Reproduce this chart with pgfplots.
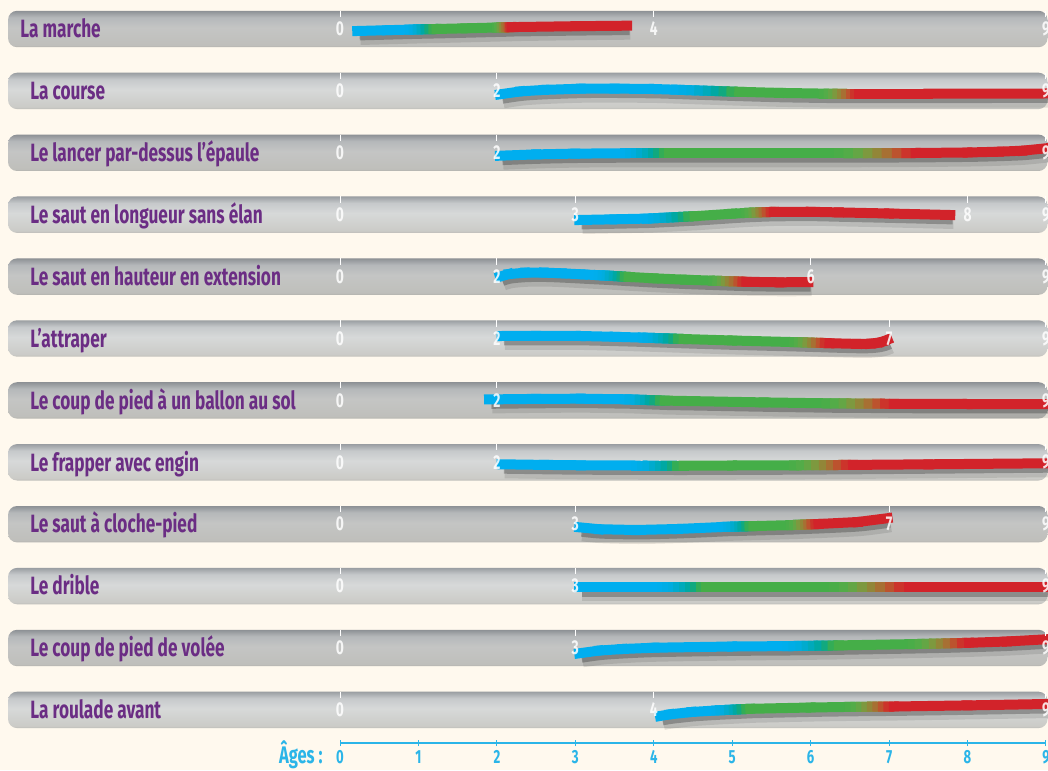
\documentclass[border=0pt]{standalone}
\usepackage{fontspec}
\setmainfont{Fira Sans}[FakeStretch=0.69]
\usepackage{pgfplots}
\usepackage{pgfplotstable}
\pgfplotsset{compat=1.18}

\definecolor{cream}{HTML}{FFF9EE}
\definecolor{lblpurple}{HTML}{6B2D84}
\definecolor{agecyan}{HTML}{2BB5E8}
\definecolor{bAbot}{HTML}{B3B2AD}
\definecolor{bAlow}{HTML}{BFBFBB}
\definecolor{bAmid}{HTML}{C4C5C4}
\definecolor{bAupp}{HTML}{B5B8BA}
\definecolor{bAtop}{HTML}{8D9195}
\definecolor{bBbot}{HTML}{BDBCB7}
\definecolor{bBlow}{HTML}{CBCBC7}
\definecolor{bBmid}{HTML}{D7D9D9}
\definecolor{bBupp}{HTML}{C6C9CB}
\definecolor{bBtop}{HTML}{9A9EA2}

\pgfdeclareverticalshading{barA}{100bp}{color(0bp)=(bAbot); color(25bp)=(bAbot);
  color(28bp)=(bAlow); color(52bp)=(bAmid); color(66bp)=(bAupp); color(75bp)=(bAtop); color(100bp)=(bAtop)}
\pgfdeclareverticalshading{barB}{100bp}{color(0bp)=(bBbot); color(25bp)=(bBbot);
  color(28bp)=(bBlow); color(52bp)=(bBmid); color(66bp)=(bBupp); color(75bp)=(bBtop); color(100bp)=(bBtop)}

% x = age, dy = offset of the line from the row centre (px), c = colour stage (0 blue, 1 green, 2 red)
\pgfplotstableread{
x dy c
0.22 2.0 0
0.60 1.2 0
0.89 0.6 0
0.94 0.5 0.15
0.99 0.4 0.3
1.04 0.3 0.45
1.09 0.2 0.6
1.14 0.15 0.75
1.19 0.05 0.9
1.23 0.0 1
1.60 -0.7 1
2.00 -1.5 1
2.03 -1.55 1.15
2.06 -1.6 1.3
2.09 -1.65 1.45
2.12 -1.7 1.6
2.15 -1.75 1.75
2.17 -1.8 1.88
2.19 -1.9 2
3.00 -2.8 2
3.66 -3.3 2
}\tMarche
\pgfplotstableread{
x dy c
2.04 3.4 0
2.30 0.5 0
2.60 -1.0 0
3.07 -2.2 0
3.50 -2.3 0
4.00 -1.9 0
4.28 -1.2 0
4.38 -0.93 0.125
4.48 -0.66 0.25
4.58 -0.4 0.375
4.69 -0.13 0.5
4.79 0.14 0.625
4.89 0.4 0.75
4.99 0.66 0.875
5.09 0.9 1
5.60 2.0 1
6.17 2.7 1
6.23 2.7 1.125
6.28 2.75 1.25
6.34 2.75 1.375
6.40 2.8 1.5
6.45 2.8 1.625
6.51 2.8 1.75
6.56 2.8 1.875
6.62 2.8 2
7.50 2.8 2
9.00 2.6 2
}\tCourse
\pgfplotstableread{
x dy c
2.04 2.9 0
2.50 1.6 0
3.00 0.8 0
3.63 0.5 0
3.70 0.5 0.125
3.77 0.5 0.25
3.84 0.5 0.375
3.92 0.5 0.5
3.99 0.5 0.625
4.06 0.5 0.75
4.13 0.5 0.875
4.20 0.5 1
5.40 0.5 1
6.36 0.5 1
6.48 0.5 1.125
6.61 0.45 1.25
6.73 0.45 1.375
6.85 0.4 1.5
6.97 0.35 1.625
7.10 0.3 1.75
7.22 0.25 1.875
7.34 0.2 2
8.00 -0.3 2
8.40 -1.1 2
8.70 -2.1 2
9.00 -4.5 2
}\tLancer
\pgfplotstableread{
x dy c
3.05 5.3 0
3.50 4.6 0
3.91 3.9 0
3.99 3.6 0.125
4.06 3.3 0.25
4.14 3.0 0.375
4.22 2.7 0.5
4.29 2.4 0.625
4.37 2.1 0.75
4.44 1.8 0.875
4.52 1.5 1
5.00 -1.0 1
5.18 -1.8 1
5.22 -1.95 1.125
5.27 -2.1 1.25
5.31 -2.25 1.375
5.36 -2.4 1.5
5.40 -2.5 1.625
5.44 -2.6 1.75
5.49 -2.7 1.875
5.53 -2.8 2
6.00 -2.9 2
6.36 -2.3 2
7.00 -1.2 2
7.78 0.3 2
}\tLongueur
\pgfplotstableread{
x dy c
2.04 0.0 0
2.15 -2.5 0
2.36 -3.9 0
2.60 -4.0 0
2.83 -3.3 0
3.10 -2.2 0
3.30 -1.4 0
3.35 -1.2 0.125
3.40 -1.0 0.25
3.44 -0.8 0.375
3.49 -0.6 0.5
3.54 -0.35 0.625
3.59 -0.1 0.75
3.63 0.1 0.875
3.68 0.3 1
4.00 1.7 1
4.40 3.1 1
4.76 4.1 1
4.81 4.25 1.125
4.87 4.4 1.25
4.92 4.55 1.375
4.97 4.7 1.5
5.02 4.8 1.625
5.08 4.95 1.75
5.13 5.05 1.875
5.18 5.2 2
5.60 5.7 2
5.97 5.5 2
}\tHauteur
\pgfplotstableread{
x dy c
2.06 -2.5 0
2.50 -2.6 0
3.07 -2.5 0
3.50 -1.7 0
3.86 -0.9 0
3.92 -0.7 0.125
3.99 -0.55 0.25
4.05 -0.4 0.375
4.12 -0.2 0.5
4.18 -0.05 0.625
4.25 0.15 0.75
4.31 0.3 0.875
4.38 0.5 1
5.00 2.0 1
5.79 3.6 1
5.85 3.7 1.125
5.90 3.85 1.25
5.96 4.0 1.375
6.02 4.15 1.5
6.07 4.3 1.625
6.13 4.4 1.75
6.18 4.55 1.875
6.24 4.7 2
6.59 5.4 2
6.75 5.2 2
6.86 4.2 2
6.93 2.8 2
6.98 1.2 2
}\tAttraper
\pgfplotstableread{
x dy c
1.90 -1.0 0
2.50 -1.5 0
3.07 -1.7 0
3.63 -1.1 0
3.69 -0.95 0.125
3.76 -0.8 0.25
3.82 -0.6 0.375
3.89 -0.45 0.5
3.95 -0.3 0.625
4.01 -0.15 0.75
4.08 0.05 0.875
4.14 0.2 1
5.40 2.0 1
6.20 2.9 1
6.31 3.0 1.125
6.42 3.05 1.25
6.52 3.1 1.375
6.63 3.15 1.5
6.74 3.2 1.625
6.85 3.3 1.75
6.95 3.35 1.875
7.06 3.4 2
8.00 3.6 2
9.00 3.7 2
}\tBallon
\pgfplotstableread{
x dy c
2.06 2.0 0
2.60 2.6 0
3.07 3.0 0
3.77 3.2 0
3.85 3.2 0.125
3.92 3.2 0.25
4.00 3.25 0.375
4.08 3.25 0.5
4.15 3.25 0.625
4.23 3.3 0.75
4.30 3.3 0.875
4.38 3.3 1
5.00 3.2 1
5.79 3.0 1
5.88 2.95 1.125
5.98 2.9 1.25
6.07 2.85 1.375
6.17 2.8 1.5
6.26 2.75 1.625
6.35 2.7 1.75
6.45 2.65 1.875
6.54 2.6 2
7.50 2.0 2
9.00 1.0 2
}\tFrapper
\pgfplotstableread{
x dy c
3.05 3.1 0
3.30 5.0 0
3.77 5.8 0
4.30 4.8 0
4.90 2.7 0
4.95 2.6 0.125
4.99 2.5 0.25
5.04 2.4 0.375
5.09 2.3 0.5
5.13 2.2 0.625
5.18 2.1 0.75
5.22 2.0 0.875
5.27 1.9 1
5.75 0.9 1
5.79 0.75 1.125
5.84 0.6 1.25
5.88 0.5 1.375
5.93 0.35 1.5
5.97 0.2 1.625
6.01 0.05 1.75
6.06 -0.05 1.875
6.10 -0.2 2
6.60 -2.2 2
6.98 -6.0 2
}\tCloche
\pgfplotstableread{
x dy c
3.05 1.3 0
4.10 1.3 0
4.17 1.3 0.125
4.24 1.3 0.25
4.31 1.3 0.375
4.39 1.3 0.5
4.46 1.3 0.625
4.53 1.3 0.75
4.60 1.3 0.875
4.67 1.3 1
6.30 1.3 1
6.42 1.3 1.125
6.54 1.3 1.25
6.66 1.3 1.375
6.78 1.3 1.5
6.89 1.3 1.625
7.01 1.3 1.75
7.13 1.3 1.875
7.25 1.3 2
9.00 1.3 2
}\tDrible
\pgfplotstableread{
x dy c
3.05 5.3 0
3.30 2.6 0
3.60 1.0 0
4.01 -0.3 0
5.00 -1.5 0
5.70 -1.9 0
5.78 -2.0 0.125
5.87 -2.05 0.25
5.95 -2.15 0.375
6.03 -2.25 0.5
6.11 -2.3 0.625
6.20 -2.4 0.75
6.28 -2.5 0.875
6.36 -2.6 1
7.30 -3.9 1
7.39 -4.05 1.125
7.48 -4.2 1.25
7.57 -4.35 1.375
7.66 -4.5 1.5
7.75 -4.65 1.625
7.84 -4.85 1.75
7.93 -5.0 1.875
8.02 -5.2 2
8.50 -6.5 2
9.00 -8.7 2
}\tVolee
\pgfplotstableread{
x dy c
4.08 6.1 0
4.20 4.5 0
4.48 2.1 0
4.80 0.5 0
4.85 0.3 0.125
4.91 0.1 0.25
4.96 -0.1 0.375
5.02 -0.3 0.5
5.07 -0.5 0.625
5.12 -0.7 0.75
5.18 -0.9 0.875
5.23 -1.1 1
6.00 -2.4 1
6.50 -3.0 1
6.57 -3.05 1.125
6.64 -3.1 1.25
6.71 -3.15 1.375
6.78 -3.2 1.5
6.85 -3.25 1.625
6.92 -3.3 1.75
6.99 -3.35 1.875
7.06 -3.4 2
8.00 -4.5 2
9.00 -5.9 2
}\tRoulade

\newcommand\rowbar[2]{%
  \shade[shading=#2, rounded corners=4.5pt]
    ([yshift=-9.1pt]axis cs:-4.232,#1) rectangle ([yshift=9.1pt]axis cs:9.02,#1);}
\newcommand\rowlabel[3]{%
  \node[anchor=base west, text=lblpurple, font=\bfseries\fontsize{12.5}{14}\selectfont, inner sep=0pt]
    at ([yshift=-4.35pt]axis cs:#1,#2) {#3};}
\newcommand\series[2]{%
  \addplot[smooth, black, opacity=0.1, line width=8pt, transform canvas={xshift=1.6pt,yshift=-3pt}]
    table[x=x, y expr=\thisrow{dy}/61.9+#2] {#1};
  \addplot[smooth, black, opacity=0.25, line width=5pt, transform canvas={xshift=1.2pt,yshift=-2.2pt}]
    table[x=x, y expr=\thisrow{dy}/61.9+#2] {#1};
  \addplot[mesh, line width=5pt, line cap=rect, point meta=explicit]
    table[x=x, y expr=\thisrow{dy}/61.9+#2, meta=c] {#1};}
\newcommand\agenum[2]{%
  \draw[white, line width=0.5pt] ([yshift=9.1pt]axis cs:#1,#2) -- ([yshift=6pt]axis cs:#1,#2);
  \node[text=white, text opacity=0.85, font=\bfseries\fontsize{10}{11}\selectfont, inner sep=0pt]
    at (axis cs:#1,#2) {#1};}

\begin{document}
\begin{tikzpicture}
\begin{axis}[
  name=main,
  scale only axis,
  width=524pt, height=385pt,
  xmin=-4.3345, xmax=9.026,
  ymin=-0.4685, ymax=11.971,
  y dir=reverse,
  axis lines=none,
  ticks=none,
  axis background/.style={fill=cream},
  clip=true,
  point meta min=0, point meta max=2,
  colormap={bgr}{rgb255(0cm)=(0,174,239); rgb255(3cm)=(0,173,225); rgb255(5.5cm)=(0,170,190);
    rgb255(7.5cm)=(0,167,150); rgb255(9cm)=(40,172,95); rgb255(10cm)=(69,174,72);
    rgb255(12.5cm)=(88,172,72); rgb255(14.5cm)=(128,152,62); rgb255(16.5cm)=(160,120,52);
    rgb255(18.5cm)=(195,75,45); rgb255(20cm)=(210,35,42)},
]
  \rowbar{0}{barA}  \rowbar{1}{barB}  \rowbar{2}{barA}  \rowbar{3}{barB}
  \rowbar{4}{barA}  \rowbar{5}{barB}  \rowbar{6}{barA}  \rowbar{7}{barB}
  \rowbar{8}{barA}  \rowbar{9}{barB}  \rowbar{10}{barA} \rowbar{11}{barB}

  \rowlabel{-4.08}{0}{La marche}
  \rowlabel{-3.952}{1}{La course}
  \rowlabel{-3.952}{2}{Le lancer par-dessus l’épaule}
  \rowlabel{-3.952}{3}{Le saut en longueur sans élan}
  \rowlabel{-3.952}{4}{Le saut en hauteur en extension}
  \rowlabel{-3.952}{5}{L’attraper}
  \rowlabel{-3.952}{6}{Le coup de pied à un ballon au sol}
  \rowlabel{-3.952}{7}{Le frapper avec engin}
  \rowlabel{-3.952}{8}{Le saut à cloche-pied}
  \rowlabel{-3.952}{9}{Le drible}
  \rowlabel{-3.952}{10}{Le coup de pied de volée}
  \rowlabel{-3.952}{11}{La roulade avant}

  \series{\tMarche}{0}
  \series{\tCourse}{1}
  \series{\tLancer}{2}
  \series{\tLongueur}{3}
  \series{\tHauteur}{4}
  \series{\tAttraper}{5}
  \series{\tBallon}{6}
  \series{\tFrapper}{7}
  \series{\tCloche}{8}
  \series{\tDrible}{9}
  \series{\tVolee}{10}
  \series{\tRoulade}{11}

  \agenum{0}{0}  \agenum{4}{0}  \agenum{9}{0}
  \agenum{0}{1}  \agenum{2}{1}  \agenum{9}{1}
  \agenum{0}{2}  \agenum{2}{2}  \agenum{9}{2}
  \agenum{0}{3}  \agenum{3}{3}  \agenum{8}{3}  \agenum{9}{3}
  \agenum{0}{4}  \agenum{2}{4}  \agenum{6}{4}  \agenum{9}{4}
  \agenum{0}{5}  \agenum{2}{5}  \agenum{7}{5}  \agenum{9}{5}
  \agenum{0}{6}  \agenum{2}{6}  \agenum{9}{6}
  \agenum{0}{7}  \agenum{2}{7}  \agenum{9}{7}
  \agenum{0}{8}  \agenum{3}{8}  \agenum{7}{8}  \agenum{9}{8}
  \agenum{0}{9}  \agenum{3}{9}  \agenum{9}{9}
  \agenum{0}{10} \agenum{3}{10} \agenum{9}{10}
  \agenum{0}{11} \agenum{4}{11} \agenum{9}{11}

  \node[anchor=base east, text=agecyan, font=\bfseries\fontsize{12}{13}\selectfont, inner sep=0pt]
    at (axis cs:-0.217,11.858) {Âges :};
\end{axis}

\begin{axis}[
  at={(170pt,13.5pt)}, anchor=south west,
  scale only axis,
  width=353pt, height=10pt,
  xmin=0, xmax=9, ymin=0, ymax=1,
  axis x line*=bottom, axis y line=none,
  xtick={0,...,9},
  tick align=center,
  major tick length=3pt,
  every tick/.style={agecyan, line width=0.5pt},
  axis line style={agecyan, line width=0.6pt},
  xticklabel style={font=\bfseries\fontsize{9.5}{10}\selectfont, text=agecyan, inner sep=0pt, yshift=-2pt},
  /pgf/number format/assume math mode=true,
]
  \addplot[draw=none] coordinates {(0,0) (9,0)};
\end{axis}
\pgfresetboundingbox
\path[use as bounding box] (main.south west) rectangle (main.north east);
\end{tikzpicture}
\end{document}
